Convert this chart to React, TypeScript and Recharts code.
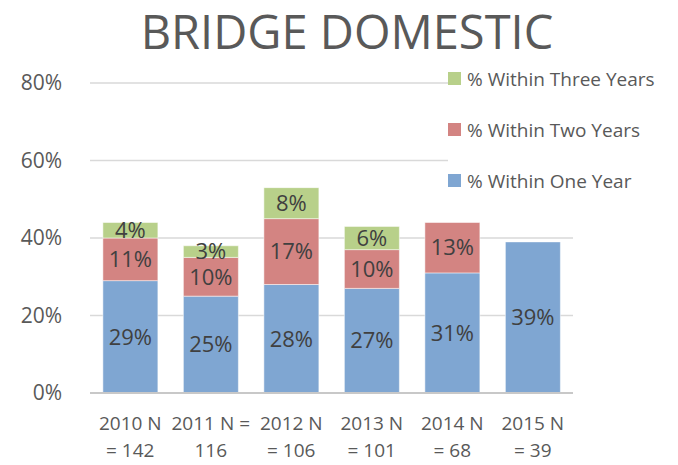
import React from "react";
import {
  Bar,
  BarChart,
  CartesianGrid,
  LabelList,
  XAxis,
  YAxis,
} from "recharts";

const categories = ["2010", "2011", "2012", "2013", "2014", "2015"];
const tickLines = [
  ["2010 N", "= 142"],
  ["2011 N =", "116"],
  ["2012 N", "= 106"],
  ["2013 N", "= 101"],
  ["2014 N", "= 68"],
  ["2015 N", "= 39"],
];
const withinOneYear = [29, 25, 28, 27, 31, 39];
const withinTwoYears = [11, 10, 17, 10, 13, null];
const withinThreeYears = [4, 3, 8, 6, null, null];
const yTicks = [0, 20, 40, 60, 80];

const series = [
  { key: "one", name: "% Within One Year", color: "#7FA6D2" },
  { key: "two", name: "% Within Two Years", color: "#D38482" },
  { key: "three", name: "% Within Three Years", color: "#B8D08A" },
];

const data = categories.map((c, i) => ({
  cat: c,
  one: withinOneYear[i],
  two: withinTwoYears[i],
  three: withinThreeYears[i],
}));

const FONT = "'Open Sans', 'Noto Sans', sans-serif";

function XTick(props: any) {
  const { x, y, payload } = props;
  const lines = tickLines[payload.index] || [payload.value];
  return (
    <g transform={`translate(${x},${y})`}>
      {lines.map((l: string, i: number) => (
        <text
          key={i}
          x={0}
          y={29 + i * 27}
          textAnchor="middle"
          fill="#595959"
          fontSize={19}
          fontFamily={FONT}
        >
          {l}
        </text>
      ))}
    </g>
  );
}

function LegendBox() {
  return (
    <div
      style={{
        position: "absolute",
        top: 53,
        left: 448,
        background: "#fff",
        fontFamily: FONT,
        paddingRight: 8,
        zIndex: 2,
      }}
    >
      {[...series].reverse().map((s) => (
        <div
          key={s.key}
          style={{
            display: "flex",
            alignItems: "center",
            height: 51,
            fontSize: 19,
            color: "#595959",
          }}
        >
          <span
            style={{
              width: 13,
              height: 13,
              background: s.color,
              marginRight: 6,
              display: "inline-block",
            }}
          />
          {s.name}
        </div>
      ))}
    </div>
  );
}

const fmt = (v: any) => (v ? `${v}%` : "");

export default function App() {
  return (
    <div style={{ position: "relative", width: 678, height: 465, background: "#fff" }}>
      <style>{"body{margin:0}"}</style>
      <div
        style={{
          position: "absolute",
          top: -2,
          left: 8,
          width: 678,
          textAlign: "center",
          fontFamily: FONT,
          fontSize: 47,
          color: "#595959",
          lineHeight: "66px",
          zIndex: 2,
        }}
      >
        BRIDGE DOMESTIC
      </div>
      <LegendBox />
      <BarChart
        width={678}
        height={465}
        data={data}
        margin={{ top: 83, right: 105, bottom: 0, left: 0 }}
        barCategoryGap="16%"
      >
        <CartesianGrid vertical={false} stroke="#D9D9D9" strokeWidth={1.5} />
        <XAxis
          dataKey="cat"
          tick={<XTick />}
          tickLine={false}
          axisLine={{ stroke: "#C8C8C8", strokeWidth: 2 }}
          interval={0}
          height={72}
        />
        <YAxis
          domain={[0, 80]}
          ticks={yTicks}
          tickFormatter={(v: number) => `${v}%`}
          tick={{ fill: "#595959", fontSize: 21, fontFamily: FONT }}
          tickLine={false}
          axisLine={false}
          width={90}
          tickMargin={22}
        />
        {series.map((s) => (
          <Bar
            key={s.key}
            dataKey={s.key}
            name={s.name}
            stackId="a"
            fill={s.color}
            stroke="#ffffff"
            strokeOpacity={0.5}
            strokeWidth={1}
            isAnimationActive={false}
          >
            <LabelList
              dataKey={s.key}
              position="center"
              formatter={fmt}
              fill="#404040"
              fontSize={22}
              fontFamily={FONT}
            />
          </Bar>
        ))}
      </BarChart>
    </div>
  );
}
